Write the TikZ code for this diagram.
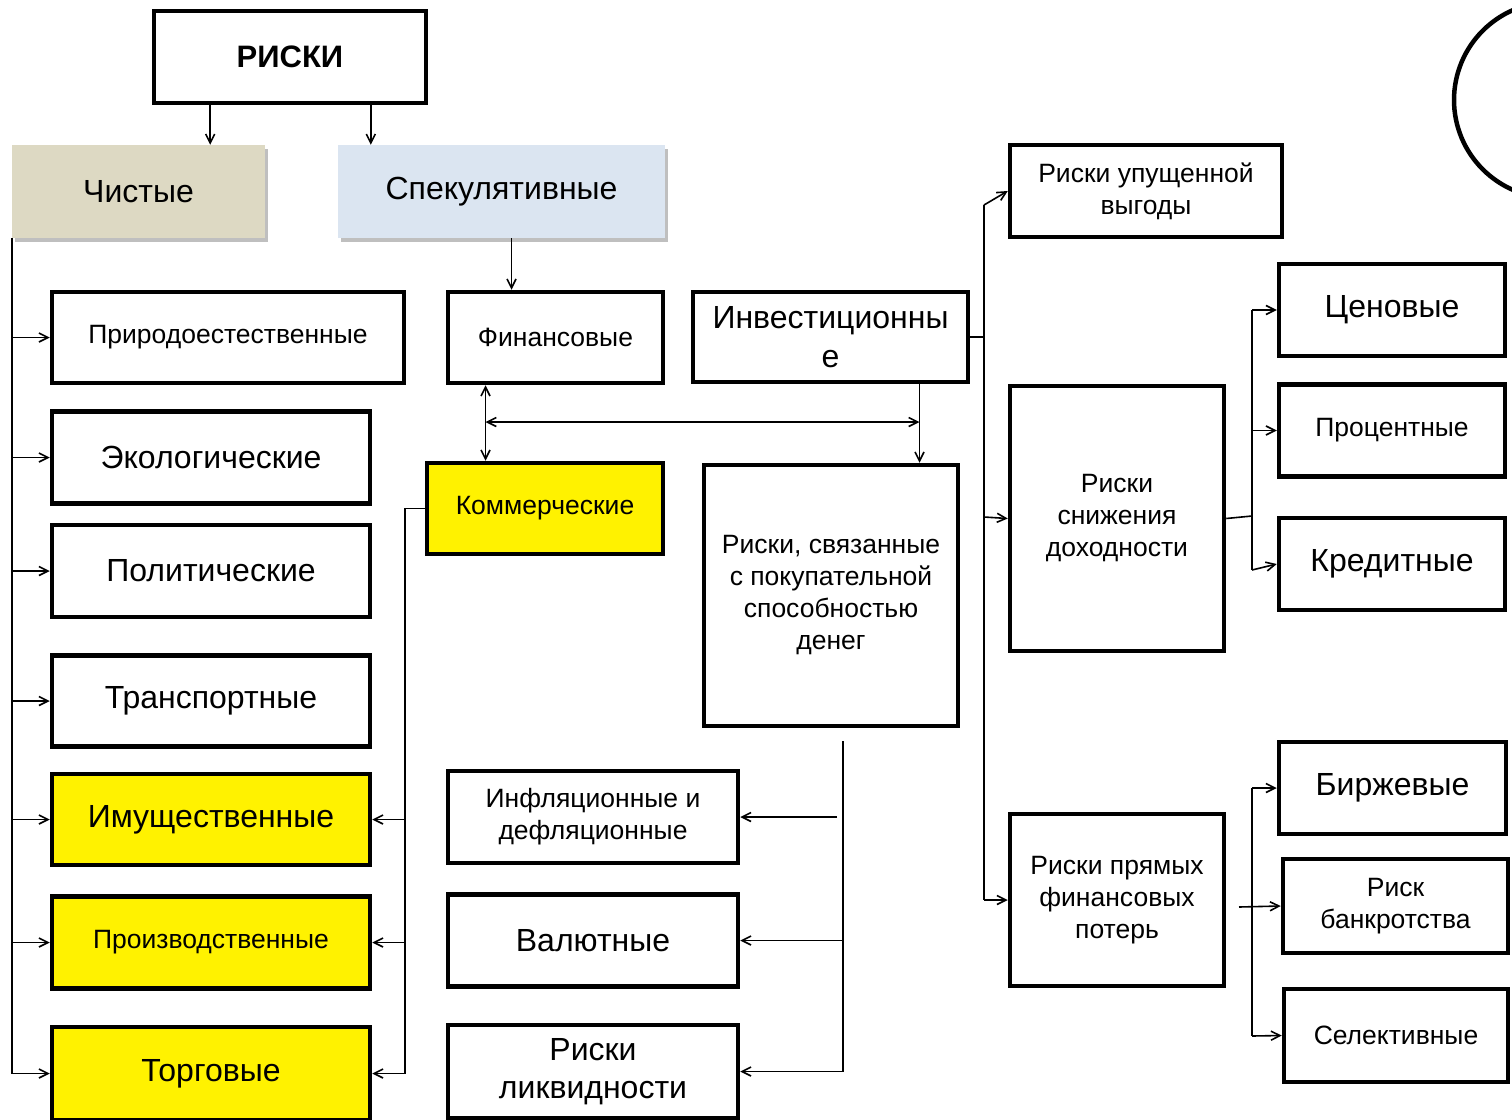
\documentclass[tikz,border=0pt]{standalone}
\usepackage{fontspec}
\setmainfont{Liberation Sans}
\usetikzlibrary{positioning, arrows.meta, shadows}
\definecolor{puregray}{HTML}{DDD9C3}
\definecolor{speculblue}{HTML}{DBE5F1}
\tikzstyle{box} = [rectangle, draw=black, line width=4.5pt, text centered, align=center, inner sep=2pt]
\tikzstyle{head} = [rectangle, text centered, align=center, font=\fontsize{32}{38}\selectfont, drop shadow={shadow xshift=3pt, shadow yshift=-4pt, fill=black, opacity=0.25}]
\tikzstyle{smalltext} = [font=\fontsize{26.5}{32}\selectfont]
\tikzstyle{bigtext} = [font=\fontsize{32}{38.5}\selectfont]
\tikzstyle{marked} = [fill=yellow]
\tikzstyle{link} = [line width=1.6pt]
\tikzstyle{arrow} = [link, -{Straight Barb[length=9pt,width=9pt]}]
\tikzstyle{darrow} = [link, {Straight Barb[length=9pt,width=9pt]}-{Straight Barb[length=9pt,width=9pt]}]

\begin{document}
\begin{tikzpicture}[x=1pt, y=-1pt]
\useasboundingbox (0,0) rectangle (1512,1119);
\clip (0,0) rectangle (1512,1119);

% top
\node (riski) [box, font=\bfseries\fontsize{31}{38}\selectfont, minimum width=272pt, minimum height=92pt] at (290,57) {РИСКИ};
\node (chistye) [head, fill=puregray, minimum width=253pt, minimum height=93pt] at (138.5,191.5) {Чистые};
\node (spekul) [head, fill=speculblue, minimum width=327pt, minimum height=93pt] at (501.5,191.5) {Спекулятивные};

% pure risks column
\node (prirod) [box, smalltext, minimum width=352pt, minimum height=91pt] at (228,337.5) {Природоестественные};
\node (ekolog) [box, bigtext, minimum width=318pt, minimum height=92pt, below=24pt of prirod.south west, anchor=north west] {Экологические};
\node (polit) [box, bigtext, minimum width=318pt, minimum height=92pt, below=17pt of ekolog.south west, anchor=north west] {Политические};
\node (transp) [box, bigtext, minimum width=318pt, minimum height=91pt, below=34pt of polit.south west, anchor=north west] {Транспортные};
\node (imusch) [box, marked, font=\fontsize{32}{38}\selectfont, minimum width=318pt, minimum height=91pt, below=23pt of transp.south west, anchor=north west] {Имущественные};
\node (proizv) [box, marked, smalltext, minimum width=318pt, minimum height=92pt, below=27pt of imusch.south west, anchor=north west] {Производственные};
\node (torg) [box, marked, bigtext, minimum width=318pt, minimum height=93pt, below=34pt of proizv.south west, anchor=north west] {Торговые};

% speculative
\node (finans) [box, smalltext, minimum width=215pt, minimum height=91pt] at (555.5,337.5) {Финансовые};
\node (invest) [box, bigtext, minimum width=275pt, minimum height=90pt] at (830.5,337) {Инвестиционны\\е};
\node (kommerch) [box, marked, smalltext, minimum width=236pt, minimum height=91pt] at (545,508.5) {Коммерческие};
\node (pokup) [box, smalltext, minimum width=254pt, minimum height=261pt] at (831,595.5) {Риски, связанные\\с покупательной\\способностью\\денег};
\node (infl) [box, smalltext, minimum width=290pt, minimum height=92pt] at (593,817) {Инфляционные и\\дефляционные};
\node (valyut) [box, bigtext, minimum width=290pt, minimum height=92pt, below=27pt of infl.south west, anchor=north west] {Валютные};
\node (likvid) [box, bigtext, minimum width=290pt, minimum height=93pt, below=34pt of valyut.south west, anchor=north west] {Риски\\ликвидности};

% investment branch
\node (upush) [box, smalltext, minimum width=272pt, minimum height=92pt] at (1146,191) {Риски упущенной\\выгоды};
\node (snizh) [box, smalltext, minimum width=214pt, minimum height=265pt] at (1117,518.5) {Риски\\снижения\\доходности};
\node (pryam) [box, smalltext, minimum width=214pt, minimum height=172pt] at (1117,900) {Риски прямых\\финансовых\\потерь};
\node (cen) [box, bigtext, minimum width=226pt, minimum height=92pt] at (1392,310) {Ценовые};
\node (proc) [box, smalltext, minimum width=226pt, minimum height=92pt, below=24pt of cen.south west, anchor=north west] {Процентные};
\node (kred) [box, bigtext, minimum width=226pt, minimum height=92pt, below=37pt of proc.south west, anchor=north west] {Кредитные};
\node (birzh) [box, bigtext, minimum width=227pt, minimum height=92pt] at (1392.5,788) {Биржевые};
\node (bankr) [box, smalltext, minimum width=225pt, minimum height=94pt] at (1395.5,906) {Риск\\банкротства};
\node (selekt) [box, smalltext, minimum width=224pt, minimum height=93pt] at (1396,1035.5) {Селективные};
\node (krug) [circle, draw=black, line width=4.5pt, minimum size=196pt] at (1552,100) {};

% connectors from top
\draw [arrow] (riski.south -| chistye.north east) ++(-55,0) coordinate (ra) -- (ra |- chistye.north);
\draw [arrow] (riski.south -| spekul.north west) ++(33,0) coordinate (rb) -- (rb |- spekul.north);
\draw [arrow] ([xshift=10pt]spekul.south) -- ([xshift=10pt]spekul.south |- finans.north);

% pure trunk
\draw [link] (chistye.south west) -- (chistye.south west |- torg.west);
\foreach \n in {prirod, ekolog, polit, transp, imusch, proizv, torg}
  \draw [arrow] (chistye.south west |- \n.west) -- (\n.west);

% commercial trunk
\coordinate (kt) at ([xshift=-20pt]kommerch.west);
\draw [link] (kommerch.west) -- (kt) -- (kt |- torg.east);
\foreach \n in {imusch, proizv, torg}
  \draw [arrow] (kt |- \n.east) -- (\n.east);

% financial / investment links
\coordinate (fk) at ([xshift=-70pt]finans.south);
\coordinate (ip) at ([xshift=89pt]invest.south);
\draw [darrow] (fk) -- (fk |- kommerch.north);
\draw [darrow] (fk |- 0,422) -- (ip |- 0,422);
\draw [arrow] (ip) -- (ip |- pokup.north);

% purchasing power trunk
\coordinate (pt) at (843,741);
\draw [link] (pt) -- (pt |- likvid.east);
\draw [arrow] ([xshift=-6pt]pt |- infl.east) -- (infl.east);
\foreach \n in {valyut, likvid}
  \draw [arrow] (pt |- \n.east) -- (\n.east);

% investment trunk
\coordinate (it) at (984,205);
\draw [link] (invest.east) -- (it |- invest.east);
\draw [link] (it) -- (984,900);
\draw [arrow] (it) -- (upush.west);
\draw [arrow] (984,517) -- (snizh.west);
\draw [arrow] (984,900) -- (pryam.west);

% income trunk
\coordinate (st) at (1252,516);
\draw [link] (snizh.east) -- (st);
\draw [link] (st |- cen.west) -- (1252,570);
\draw [arrow] (st |- cen.west) -- (cen.west);
\draw [arrow] (st |- proc.west) -- (proc.west);
\draw [arrow] (1252,570) -- (kred.west);

% direct losses trunk
\coordinate (dt) at (1239,907);
\draw [arrow] (dt) -- (bankr.west);
\draw [link] (1252,788) -- (1252,1036);
\draw [arrow] (1252,788) -- (birzh.west);
\draw [arrow] (1252,1036) -- (selekt.west);
\end{tikzpicture}
\end{document}
